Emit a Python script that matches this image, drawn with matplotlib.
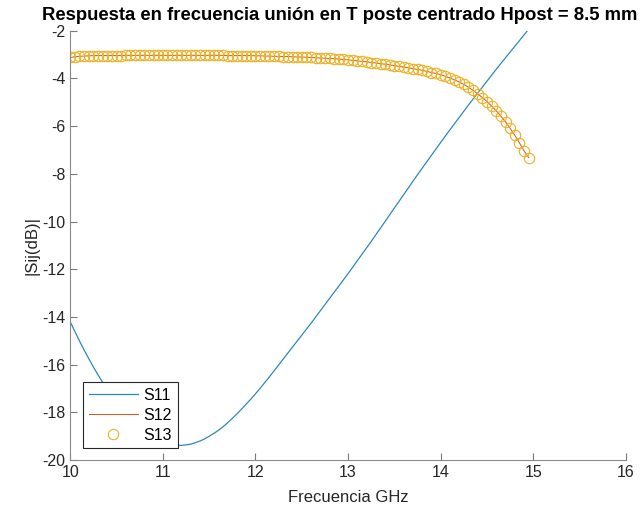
import matplotlib
matplotlib.use("Agg")
import matplotlib.pyplot as plt

plt.rcParams['font.family'] = ['Liberation Sans', 'DejaVu Sans']
plt.rcParams['axes.unicode_minus'] = False

# frecuencia (GHz), paso 0.05
freq = [round(10 + 0.05 * i, 2) for i in range(100)]

s11 = [
    -14.20, -14.60, -15.00, -15.38, -15.74, -16.09, -16.42, -16.74, -17.04, -17.33,
    -17.60, -17.85, -18.08, -18.30, -18.50, -18.68, -18.84, -18.98, -19.10, -19.22,
    -19.29, -19.34, -19.37, -19.38, -19.38, -19.36, -19.33, -19.27, -19.20, -19.11,
    -19.00, -18.88, -18.75, -18.60, -18.43, -18.25, -18.06, -17.86, -17.65, -17.44,
    -17.22, -16.99, -16.75, -16.51, -16.26, -16.01, -15.76, -15.51, -15.26, -15.01,
    -14.76, -14.51, -14.26, -14.00, -13.74, -13.48, -13.22, -12.96, -12.70, -12.44,
    -12.18, -11.91, -11.64, -11.37, -11.10, -10.83, -10.55, -10.27, -9.99, -9.71,
    -9.43, -9.15, -8.87, -8.59, -8.31, -8.03, -7.76, -7.49, -7.22, -6.95,
    -6.68, -6.41, -6.15, -5.89, -5.63, -5.37, -5.11, -4.86, -4.61, -4.36,
    -4.11, -3.86, -3.61, -3.37, -3.13, -2.89, -2.65, -2.41, -2.17, -1.93,
]

s13 = [
    -3.12, -3.09, -3.07, -3.06, -3.05, -3.04, -3.04, -3.04, -3.04, -3.04,
    -3.04, -3.04, -3.03, -3.03, -3.03, -3.03, -3.03, -3.03, -3.03, -3.03,
    -3.03, -3.03, -3.03, -3.03, -3.03, -3.03, -3.03, -3.03, -3.03, -3.03,
    -3.03, -3.03, -3.03, -3.03, -3.04, -3.04, -3.04, -3.04, -3.04, -3.04,
    -3.05, -3.05, -3.06, -3.06, -3.07, -3.07, -3.08, -3.08, -3.09, -3.10,
    -3.10, -3.11, -3.12, -3.13, -3.14, -3.15, -3.16, -3.17, -3.19, -3.20,
    -3.22, -3.24, -3.26, -3.28, -3.30, -3.33, -3.35, -3.38, -3.40, -3.43,
    -3.46, -3.49, -3.52, -3.55, -3.59, -3.62, -3.66, -3.70, -3.75, -3.79,
    -3.84, -3.91, -3.98, -4.06, -4.15, -4.25, -4.37, -4.50, -4.65, -4.80,
    -4.97, -5.16, -5.36, -5.58, -5.82, -6.09, -6.38, -6.70, -7.03, -7.32,
]
s12 = list(s13)  # S12 y S13 coinciden (simetria)

xticks = [10, 11, 12, 13, 14, 15, 16]
yticks = [-20, -18, -16, -14, -12, -10, -8, -6, -4, -2]

fig = plt.figure(figsize=(6.44, 5.13), dpi=100)
ax = fig.add_axes([0.109, 0.103, 0.863, 0.837])

ax.plot(freq, s11, color='#2f88bd', lw=0.9, label='S11')
ax.plot(freq, s12, color='#D95319', lw=0.7, label='S12')
ax.plot(freq, s13, ls='none', marker='o', ms=7.5, mfc='none', mec='#EDB120',
        mew=0.8, label='S13')

ax.set_xlim(10, 16)
ax.set_ylim(-20, -2)
ax.set_xticks(xticks)
ax.set_yticks(yticks)
ax.tick_params(direction='in', length=5, width=0.8, color='#7a7a7a',
               labelsize=11.5, labelcolor='#262626')
for side in ('top', 'right'):
    ax.spines[side].set_visible(False)
for side in ('left', 'bottom'):
    ax.spines[side].set_color('#8a8a8a')
    ax.spines[side].set_linewidth(0.8)

ax.set_xlabel('Frecuencia GHz', fontsize=12, color='#262626', labelpad=7)
ax.set_ylabel('|Sij(dB)|', fontsize=12, color='#262626', labelpad=2)
ax.set_title('Respuesta en frecuencia unión en T poste centrado Hpost = 8.5 mm',
             fontsize=13.3, fontweight='bold', pad=8, x=0.485)

leg = ax.legend(loc='lower left', bbox_to_anchor=(0.023, 0.028), borderaxespad=0,
                fontsize=11.5, fancybox=False, framealpha=1, borderpad=0.35,
                labelspacing=0.3, handlelength=3.1, handletextpad=0.35)
leg.get_frame().set_edgecolor('#262626')
leg.get_frame().set_linewidth(0.8)

fig.savefig('out.png', dpi=100)
